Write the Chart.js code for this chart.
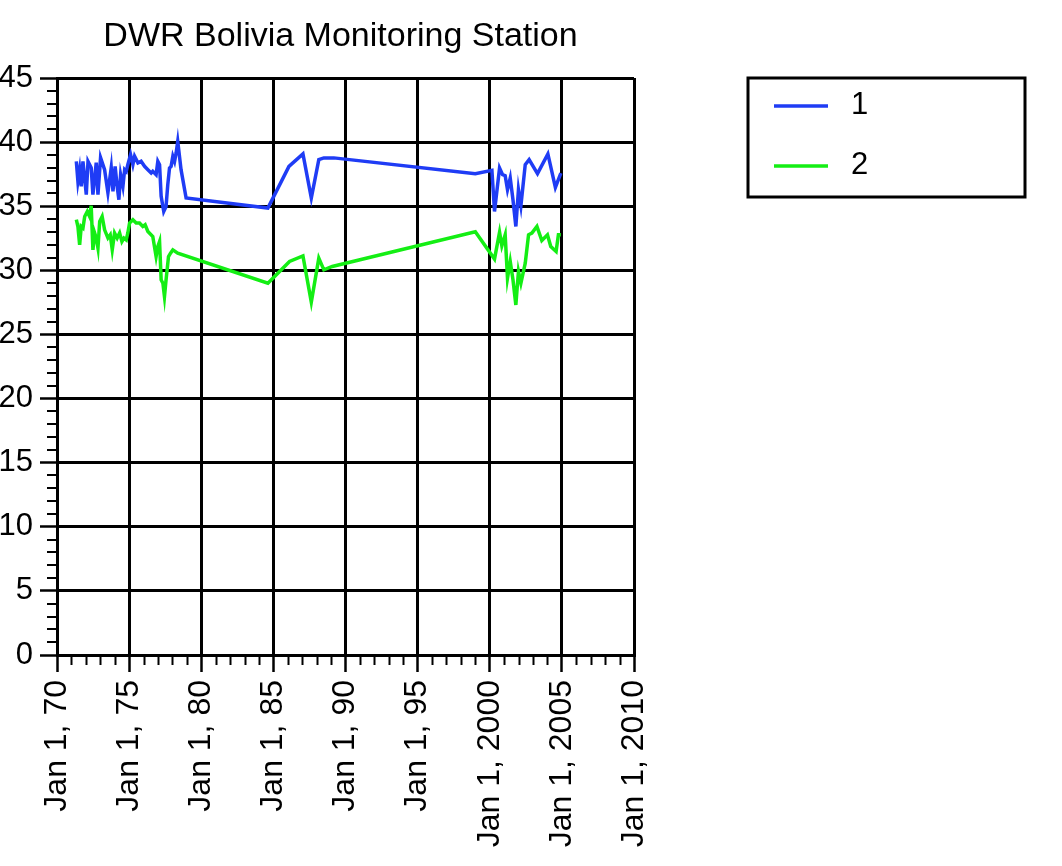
<!DOCTYPE html>
<html>
<head>
<meta charset="utf-8">
<title>DWR Bolivia Monitoring Station</title>
<script src="https://cdn.jsdelivr.net/npm/chart.js@4.4.1/dist/chart.umd.min.js"></script>
<style>
  html, body { margin: 0; padding: 0; background: #ffffff; overflow: hidden; }
  #wrap { position: relative; width: 1062px; height: 866px; }
  canvas { display: block; }
</style>
</head>
<body>
<div id="wrap"><canvas id="chart" width="1062" height="866"></canvas></div>
<script>
// Series 1 (decimal year, value)
const years1 = [1971.34, 1971.45, 1971.57, 1971.68, 1971.80, 1972.03, 1972.15, 1972.37, 1972.49, 1972.72,
  1972.84, 1973.02, 1973.30, 1973.53, 1973.76, 1973.88, 1974.03, 1974.17, 1974.29, 1974.41,
  1974.57, 1974.69, 1974.80, 1974.91, 1975.10, 1975.26, 1975.38, 1975.61, 1975.83, 1976.07,
  1976.30, 1976.53, 1976.64, 1976.87, 1976.99, 1977.11, 1977.22, 1977.40, 1977.56, 1977.68,
  1977.80, 1977.91, 1978.03, 1978.15, 1978.26, 1978.37, 1978.60, 1978.95, 1984.62, 1986.08,
  1987.05, 1987.63, 1988.15, 1988.50, 1989.19, 1999.00, 2000.15, 2000.33, 2000.68, 2000.89,
  2001.07, 2001.23, 2001.42, 2001.61, 2001.81, 2001.99, 2002.16, 2002.46, 2002.73, 2003.31,
  2004.03, 2004.55, 2004.93];
const values1 = [38.50, 36.94, 37.85, 36.55, 38.50, 35.90, 38.50, 38.01, 35.90, 38.40,
  35.90, 38.79, 37.85, 36.05, 38.01, 36.16, 38.11, 36.55, 35.51, 37.46,
  36.55, 37.85, 37.72, 38.24, 39.02, 38.24, 38.89, 38.38, 38.50, 38.11,
  37.85, 37.59, 37.72, 37.46, 38.50, 38.24, 35.77, 34.59, 34.98, 36.68,
  37.98, 38.11, 38.89, 38.50, 39.16, 40.06, 37.85, 35.64, 34.86, 38.11,
  39.08, 35.64, 38.63, 38.77, 38.77, 37.54, 37.80, 34.59, 37.98, 37.46,
  37.38, 36.29, 37.20, 35.51, 33.42, 36.29, 35.04, 38.24, 38.63, 37.54,
  39.08, 36.47, 37.59];

// Series 2 (decimal year, value)
const years2 = [1971.34, 1971.45, 1971.57, 1971.68, 1971.80, 1971.92, 1972.10, 1972.26, 1972.37, 1972.49,
  1972.61, 1972.72, 1972.84, 1972.96, 1973.13, 1973.30, 1973.53, 1973.69, 1973.83, 1973.99,
  1974.17, 1974.34, 1974.50, 1974.64, 1974.80, 1974.91, 1975.03, 1975.26, 1975.49, 1975.72,
  1975.95, 1976.11, 1976.30, 1976.64, 1976.87, 1976.99, 1977.11, 1977.22, 1977.34, 1977.45,
  1977.56, 1977.73, 1977.87, 1978.03, 1978.37, 1984.62, 1986.12, 1987.05, 1987.63, 1988.15,
  1988.50, 1989.08, 1999.00, 2000.33, 2000.68, 2000.84, 2001.07, 2001.23, 2001.42, 2001.61,
  2001.81, 2001.99, 2002.16, 2002.46, 2002.69, 2002.92, 2003.27, 2003.61, 2004.00, 2004.23,
  2004.60, 2004.76, 2004.93];
const values2 = [33.95, 33.42, 31.99, 33.42, 33.30, 34.20, 34.59, 34.20, 35.04, 31.60,
  32.91, 32.52, 31.73, 33.81, 34.20, 33.16, 32.52, 32.77, 31.60, 32.91,
  32.52, 32.91, 32.25, 32.52, 32.38, 32.91, 33.69, 33.95, 33.69, 33.69,
  33.42, 33.55, 33.03, 32.64, 31.08, 31.86, 32.25, 29.26, 29.00, 27.95,
  29.26, 31.08, 31.34, 31.60, 31.34, 29.00, 30.69, 31.13, 27.52, 30.95,
  30.04, 30.30, 33.01, 30.88, 32.98, 31.91, 32.77, 29.39, 30.69, 29.26,
  27.30, 29.91, 29.00, 30.56, 32.77, 32.91, 33.42, 32.33, 32.77, 31.86,
  31.47, 32.77, 32.77];

const seriesNames = ['1', '2'];
const seriesColors = ['#1f3cf5', '#14ee14'];

const xTickYears = [1970, 1975, 1980, 1985, 1990, 1995, 2000, 2005, 2010];
const xTickLabels = ['Jan 1, 70', 'Jan 1, 75', 'Jan 1, 80', 'Jan 1, 85', 'Jan 1, 90',
  'Jan 1, 95', 'Jan 1, 2000', 'Jan 1, 2005', 'Jan 1, 2010'];
const yTickLabels = ['0', '5', '10', '15', '20', '25', '30', '35', '40', '45'];

const titleText = 'DWR Bolivia Monitoring Station';
const FONT = '"Liberation Sans", Arial, Helvetica, sans-serif';

function points(xs, ys) { return xs.map((x, i) => ({ x: x, y: ys[i] })); }

// Small unlabeled ticks: every year on x, every unit on y
const minorTicks = {
  id: 'minorTicks',
  afterDraw(chart) {
    const ctx = chart.ctx, xs = chart.scales.x, ys = chart.scales.y;
    const area = chart.chartArea;
    ctx.save();
    ctx.strokeStyle = '#000';
    ctx.lineWidth = 2;
    ctx.beginPath();
    for (let yr = xs.min + 1; yr < xs.max; yr++) {
      if (yr % 5 === 0) continue;
      const px = Math.round(xs.getPixelForValue(yr)) + 0.5;
      ctx.moveTo(px, area.bottom);
      ctx.lineTo(px, area.bottom + 10);
    }
    for (let v = ys.min + 1; v < ys.max; v++) {
      if (v % 5 === 0) continue;
      const py = Math.round(ys.getPixelForValue(v));
      ctx.moveTo(area.left - 10, py);
      ctx.lineTo(area.left, py);
    }
    ctx.stroke();
    ctx.restore();
  }
};

// Title centered over the plotting area
const plotTitle = {
  id: 'plotTitle',
  afterDraw(chart) {
    const ctx = chart.ctx, area = chart.chartArea;
    ctx.save();
    ctx.fillStyle = '#000';
    ctx.font = '34px ' + FONT;
    ctx.textAlign = 'center';
    ctx.textBaseline = 'middle';
    ctx.fillText(titleText, (area.left + area.right) / 2 - 5, 37);
    ctx.restore();
  }
};

// Boxed legend to the right of the plot
const boxLegend = {
  id: 'boxLegend',
  afterDraw(chart) {
    const ctx = chart.ctx;
    const bx = 748, by = 78, bw = 277, bh = 119;
    ctx.save();
    ctx.fillStyle = '#fff';
    ctx.fillRect(bx, by, bw, bh);
    ctx.strokeStyle = '#000';
    ctx.lineWidth = 3;
    ctx.strokeRect(bx, by, bw, bh);
    ctx.font = '31px ' + FONT;
    ctx.textBaseline = 'middle';
    ctx.textAlign = 'left';
    chart.data.datasets.forEach((ds, i) => {
      const y = 106 + i * 60;
      ctx.strokeStyle = ds.borderColor;
      ctx.lineWidth = 3.5;
      ctx.beginPath();
      ctx.moveTo(774, y);
      ctx.lineTo(828, y);
      ctx.stroke();
      ctx.fillStyle = '#000';
      ctx.fillText(ds.label, 851, y - 1);
    });
    ctx.restore();
  }
};

const chart = new Chart(document.getElementById('chart'), {
  type: 'line',
  data: {
    datasets: [
      { label: seriesNames[0], data: points(years1, values1), borderColor: seriesColors[0],
        backgroundColor: seriesColors[0], borderWidth: 3.5, pointRadius: 0, tension: 0, fill: false },
      { label: seriesNames[1], data: points(years2, values2), borderColor: seriesColors[1],
        backgroundColor: seriesColors[1], borderWidth: 3.5, pointRadius: 0, tension: 0, fill: false }
    ]
  },
  options: {
    responsive: false,
    animation: false,
    devicePixelRatio: 1,
    layout: { padding: { top: 78, right: 428, bottom: 0, left: 0 } },
    plugins: {
      legend: { display: false },
      title: { display: false },
      tooltip: { enabled: false }
    },
    scales: {
      x: {
        type: 'linear',
        min: 1970,
        max: 2010,
        afterFit(scale) { scale.height = 211; },
        afterBuildTicks(scale) { scale.ticks = xTickYears.map(v => ({ value: v })); },
        ticks: {
          autoSkip: false,
          minRotation: 90,
          maxRotation: 90,
          padding: 8,
          color: '#000',
          font: { family: FONT, size: 32 },
          callback(value) { return xTickLabels[xTickYears.indexOf(value)]; }
        },
        grid: { color: '#000', lineWidth: 3, tickLength: 17, tickColor: '#000', tickWidth: 2.5, drawOnChartArea: true },
        border: { display: true, color: '#000', width: 3 }
      },
      y: {
        type: 'linear',
        min: 0,
        max: 45,
        afterFit(scale) { scale.width = 57; },
        ticks: {
          stepSize: 5,
          padding: 7,
          color: '#000',
          font: { family: FONT, size: 31 },
          callback(value) { return yTickLabels[Math.round(value / 5)]; }
        },
        grid: { color: '#000', lineWidth: 3, tickLength: 17, tickColor: '#000', tickWidth: 2.5 },
        border: { display: true, color: '#000', width: 3 }
      }
    }
  },
  plugins: [minorTicks, plotTitle, boxLegend]
});
</script>
</body>
</html>
